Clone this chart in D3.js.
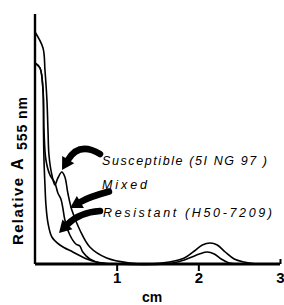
<!DOCTYPE html>
<html>
<head>
<meta charset="utf-8">
<script src="https://cdn.jsdelivr.net/npm/d3@7"></script>
<style>
  body { margin: 0; background: #fff; }
  svg { display: block; }
  text { font-family: "Liberation Sans", Arial, sans-serif; fill: #000; }
</style>
</head>
<body>
<div id="chart"></div>
<script>
// distance along gradient (cm) and relative absorbance (0..1)
const susceptibleCm  = [0, 0.098, 0.122, 0.146, 0.159, 0.171, 0.207, 0.244, 0.280, 0.329, 0.366, 0.402, 0.451, 0.549, 0.671, 0.878, 1.159, 1.402, 1.646, 1.829, 1.951, 2.049, 2.146, 2.232, 2.329, 2.439, 2.561, 2.72];
const susceptibleAbs = [0.928, 0.864, 0.776, 0.656, 0.536, 0.436, 0.356, 0.316, 0.344, 0.368, 0.348, 0.284, 0.216, 0.136, 0.068, 0.024, 0.004, 0, 0.008, 0.024, 0.052, 0.076, 0.084, 0.076, 0.048, 0.020, 0.008, 0];

const mixedCm  = [0, 0.061, 0.098, 0.110, 0.134, 0.183, 0.244, 0.280, 0.317, 0.341, 0.366, 0.427, 0.500, 0.549, 0.585, 0.671, 0.793, 0.976, 1.585, 1.744, 1.890, 2.012, 2.110, 2.195, 2.280, 2.378, 2.476];
const mixedAbs = [0.804, 0.784, 0.696, 0.536, 0.416, 0.356, 0.324, 0.284, 0.260, 0.224, 0.176, 0.116, 0.080, 0.072, 0.048, 0.020, 0.004, 0, 0, 0.008, 0.024, 0.040, 0.048, 0.040, 0.020, 0.004, 0];

const resistantCm  = [0, 0.061, 0.098, 0.104, 0.110, 0.122, 0.134, 0.159, 0.207, 0.305, 0.463, 0.634, 0.756, 0.939];
const resistantAbs = [0.804, 0.784, 0.696, 0.536, 0.416, 0.316, 0.236, 0.164, 0.108, 0.076, 0.048, 0.020, 0.008, 0];

const xTicks = [1, 2, 3];
const seriesNames = ["Susceptible (5I NG 97 )", "Mixed", "Resistant (H50-7209)"];

const W = 284, H = 305;
const svg = d3.select("#chart").append("svg")
    .attr("width", W)
    .attr("height", H);

const x = d3.scaleLinear().domain([0, 3]).range([35, 280]);
const y = d3.scaleLinear().domain([0, 1]).range([264, 14]);

const line = d3.line()
    .x(d => x(d[0]))
    .y(d => y(d[1]))
    .curve(d3.curveCatmullRom.alpha(0.5));

const series = [
    d3.zip(susceptibleCm, susceptibleAbs),
    d3.zip(mixedCm, mixedAbs),
    d3.zip(resistantCm, resistantAbs)
];

svg.selectAll("path.curve")
    .data(series)
    .enter()
    .append("path")
    .attr("class", "curve")
    .attr("d", line)
    .attr("fill", "none")
    .attr("stroke", "#000")
    .attr("stroke-width", 1.6);

// axes
svg.append("line")
    .attr("x1", x(0)).attr("x2", x(0))
    .attr("y1", y(1)).attr("y2", y(0))
    .attr("stroke", "#000")
    .attr("stroke-width", 2.4);

const xAxis = svg.append("g")
    .attr("transform", `translate(0,${y(0)})`)
    .call(d3.axisBottom(x).tickValues(xTicks).tickSize(7).tickSizeOuter(0).tickPadding(6).tickFormat(d3.format("d")));

xAxis.select(".domain")
    .attr("stroke", "#000")
    .attr("stroke-width", 2.8)
    .attr("d", `M${x(0)},0H${x(3)}`);
xAxis.selectAll(".tick line").attr("stroke-width", 2);
xAxis.selectAll(".tick").filter(d => d === 3).select("line").attr("y2", -5);
xAxis.selectAll(".tick text")
    .attr("y", 19)
    .attr("dy", 0)
    .style("font-size", "15px")
    .style("font-weight", "bold")
    .style("font-family", "'Liberation Sans', Arial, sans-serif");

svg.append("text")
    .attr("x", 142)
    .attr("y", 302)
    .style("font-size", "14px")
    .style("font-weight", "bold")
    .text("cm");

// y label
svg.append("text")
    .attr("transform", "translate(23,245) rotate(-90)")
    .attr("textLength", 67)
    .attr("lengthAdjust", "spacing")
    .style("font-size", "15px")
    .style("font-weight", "bold")
    .text("Relative");
svg.append("text")
    .attr("transform", "translate(23,170) rotate(-90)")
    .style("font-size", "16px")
    .style("font-weight", "bold")
    .text("A");
svg.append("text")
    .attr("transform", "translate(27,150) rotate(-90)")
    .attr("textLength", 53)
    .attr("lengthAdjust", "spacing")
    .style("font-size", "14px")
    .style("font-weight", "bold")
    .text("555 nm");

// labels with arrows
const labelLayout = [
    {x: 102, y: 165, w: 165, tail: [0.796, 0.440], ctrl: [0.540, 0.490], tip: [0.331, 0.376]},
    {x: 102, y: 189, w: 45,  tail: [0.906, 0.290], ctrl: [0.660, 0.268], tip: [0.429, 0.224]},
    {x: 103, y: 217, w: 169, tail: [0.796, 0.212], ctrl: [0.540, 0.206], tip: [0.294, 0.124]}
];

seriesNames.forEach((name, i) => {
    const L = labelLayout[i];
    svg.append("text")
        .attr("x", L.x)
        .attr("y", L.y)
        .attr("textLength", L.w)
        .attr("lengthAdjust", "spacing")
        .style("font-size", "12.5px")
        .style("font-style", "italic")
        .text(name);

    const p0 = [x(L.tail[0]), y(L.tail[1])];
    const c = [x(L.ctrl[0]), y(L.ctrl[1])];
    const tip = [x(L.tip[0]), y(L.tip[1])];
    let dx = tip[0] - c[0], dy = tip[1] - c[1];
    const len = Math.hypot(dx, dy);
    dx /= len; dy /= len;
    const headLen = 12, headW = 14;
    const base = [tip[0] - dx * headLen, tip[1] - dy * headLen];
    svg.append("path")
        .attr("d", `M${p0[0]},${p0[1]}Q${c[0]},${c[1]} ${base[0]},${base[1]}`)
        .attr("fill", "none")
        .attr("stroke", "#000")
        .attr("stroke-width", 6.5)
        .attr("stroke-linecap", "round");
    svg.append("path")
        .attr("d", `M${tip[0]},${tip[1]}L${base[0] - dy * headW / 2},${base[1] + dx * headW / 2}L${base[0] + dy * headW / 2},${base[1] - dx * headW / 2}Z`)
        .attr("fill", "#000");
});
</script>
</body>
</html>
